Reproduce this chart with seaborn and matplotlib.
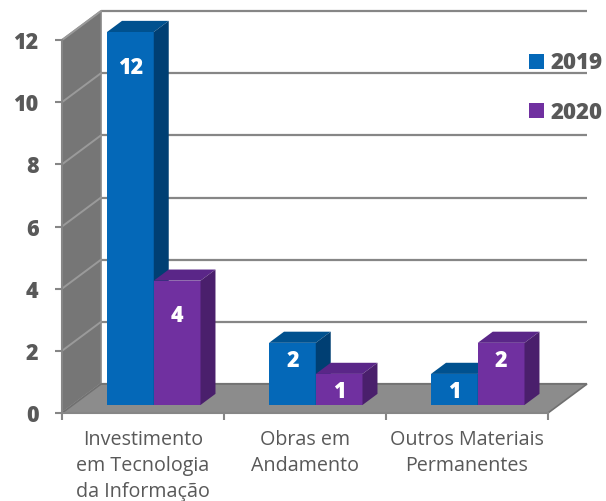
import numpy as np
import pandas as pd
import seaborn as sns
import matplotlib.pyplot as plt
from matplotlib.patches import Polygon, Patch

# ---- data -------------------------------------------------------------
categorias = ["Investimento\nem Tecnologia\nda Informação",
              "Obras em\nAndamento",
              "Outros Materiais\nPermanentes"]
anos = ["2019", "2020"]
valores_2019 = [12, 2, 1]
valores_2020 = [4, 1, 2]
y_ticks = [0, 2, 4, 6, 8, 10, 12]

df = pd.DataFrame({
    "categoria": categorias * 2,
    "ano": [anos[0]] * len(categorias) + [anos[1]] * len(categorias),
    "valor": valores_2019 + valores_2020,
})

# face colours for the 3D boxes: front, top, side
faces = {
    "2019": ("#0468B8", "#00518F", "#003F73"),
    "2020": ("#7030A0", "#5A2688", "#4A1F6C"),
}
grid_c = "#868686"
text_c = "#595959"
num_weight = "heavy"

sns.set_theme(style="white")
plt.rcParams["font.family"] = ["Open Sans", "DejaVu Sans"]

W, H = 606, 501
fig = plt.figure(figsize=(W / 100, H / 100), dpi=100)
ax = fig.add_axes([62 / W, (H - 413) / H, 486 / W, 373 / H])

sns.barplot(data=df, x="categoria", y="valor", hue="ano",
            palette=[faces[a][0] for a in anos], saturation=1,
            width=0.577, linewidth=0, legend=False, ax=ax)

ax.set_xlim(-0.5, 2.5)
ax.set_ylim(0, 12)

# oblique projection of the depth axis (in data units)
px_x = 486 / 3.0
px_y = 373 / 12.0
ddx = 39 / px_x
ddy = 29 / px_y
f0, f1 = 0.276, 0.66   # front / back of the boxes along the depth axis
top_y = max(y_ticks)

# back wall gridlines
for t in y_ticks:
    ax.plot([-0.5 + ddx, 2.5 + ddx], [t + ddy, t + ddy], color=grid_c,
            lw=1.6, clip_on=False, zorder=0.5, solid_capstyle="butt")

# left side wall
side = Polygon([(-0.5, 0), (-0.5 + ddx, ddy), (-0.5 + ddx, top_y + ddy),
                (-0.5, top_y)], closed=True, facecolor="#767676",
               edgecolor=grid_c, lw=1.2, clip_on=False, zorder=1)
ax.add_patch(side)
for t in y_ticks:
    ax.plot([-0.5, -0.5 + ddx], [t, t + ddy], color="#9a9a9a", lw=1.4,
            clip_on=False, zorder=1.2)

# floor
floor = Polygon([(-0.5, 0), (2.5, 0), (2.5 + ddx, ddy), (-0.5 + ddx, ddy)],
                closed=True, facecolor="#8C8C8C", edgecolor="#707070",
                lw=1.2, clip_on=False, zorder=1.5)
ax.add_patch(floor)

# turn the flat bars into boxes
bars = []
for ano, cont in zip(anos, ax.containers):
    for patch, val in zip(cont.patches, cont.datavalues):
        bars.append((patch, ano, val))
bars.sort(key=lambda b: b[0].get_x())

dx1 = (f1 - f0) * ddx
dy1 = (f1 - f0) * ddy
for i, (patch, ano, val) in enumerate(bars):
    z = 5 + i * 0.1
    x0 = patch.get_x() + f0 * ddx
    w = patch.get_width()
    y0 = f0 * ddy
    patch.set_x(x0)
    patch.set_y(y0)
    patch.set_zorder(z)
    patch.set_clip_on(False)
    x1, y1 = x0 + w, y0 + patch.get_height()
    front, topc, sidec = faces[ano]
    ax.add_patch(Polygon([(x0, y1), (x1, y1), (x1 + dx1, y1 + dy1),
                          (x0 + dx1, y1 + dy1)], closed=True,
                         facecolor=topc, lw=0, clip_on=False, zorder=z))
    ax.add_patch(Polygon([(x1, y0), (x1 + dx1, y0 + dy1),
                          (x1 + dx1, y1 + dy1), (x1, y1)], closed=True,
                         facecolor=sidec, lw=0, clip_on=False, zorder=z))
    inset = 1.15 if val >= 3 else 0.57
    ax.text(x0 + w / 2, y0 + val - inset, f"{val:g}", ha="center",
            va="center", color="white", fontsize=15.5, fontweight=num_weight,
            zorder=z + 0.05)

# axes
for s in ["top", "right"]:
    ax.spines[s].set_visible(False)
for s in ["left", "bottom"]:
    ax.spines[s].set_color(grid_c)
    ax.spines[s].set_linewidth(1.5)
ax.set_xlabel("")
ax.set_ylabel("")

ax.set_yticks(y_ticks)
ax.tick_params(axis="y", left=True, length=5, width=1.5, color=grid_c,
               pad=12, labelsize=15.5, labelcolor=text_c)
for lbl in ax.get_yticklabels():
    lbl.set_fontweight(num_weight)

ax.set_xticks([-0.5, 0.5, 1.5, 2.5])
ax.set_xticklabels([])
ax.set_xticks(range(len(categorias)), minor=True)
ax.set_xticklabels(categorias, minor=True, linespacing=1.42)
ax.tick_params(axis="x", which="major", bottom=True, length=5, width=1.5,
               color=grid_c)
ax.tick_params(axis="x", which="minor", bottom=True, length=0, pad=12,
               labelsize=14.2, labelcolor=text_c)

handles = [Patch(facecolor=faces[a][0], lw=0) for a in anos]
ax.legend(handles, anos, loc="upper left",
          bbox_to_anchor=(518 / W, (H - 40) / H),
          bbox_transform=fig.transFigure, frameon=False,
          prop={"weight": num_weight, "size": 16}, labelcolor=text_c,
          handlelength=0.66, handleheight=0.66, handletextpad=0.3,
          labelspacing=1.15, borderpad=0)

fig.savefig("out.png", dpi=100)
